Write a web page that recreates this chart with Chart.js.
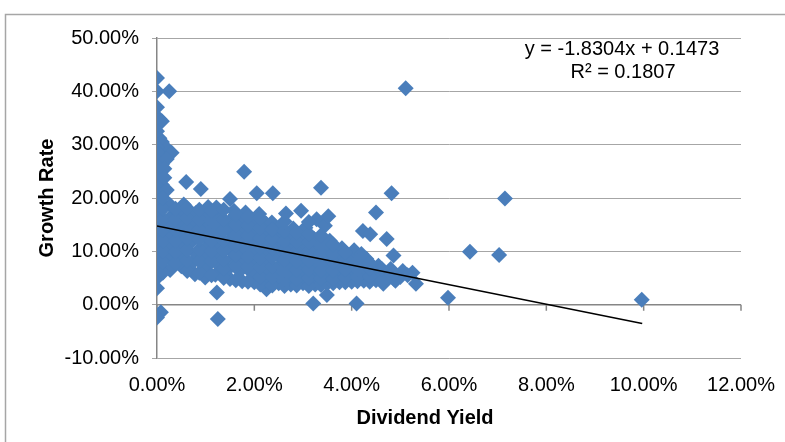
<!DOCTYPE html>
<html>
<head>
<meta charset="utf-8">
<script src="https://cdn.jsdelivr.net/npm/chart.js@4/dist/chart.umd.min.js"></script>
<style>
  body { margin: 0; background: #fff; }
  canvas { display: block; }
</style>
</head>
<body>
<canvas id="chart" width="785" height="442"></canvas>
<script>
(function() {
	"use strict";

	// dividend yield (%) and growth rate (%)
	var DIV_YIELD = [
		0, 0, 0.25, 0, 0.05, 0.1, 0, 0.05, 0.1, 0.2, 0, 0.05, 0, 0.1, 0, 0.05, 0, 0.1, 0, 0.05,
		0, 0.1, 0, 0.05, 0, 0.1, 0, 0.05, 0, 0.1, 0, 0.05, 0, 0.1, 0, 0.05, 0, 0, 0, 0.08, 0,
		0.3, 0.2, 0.15, 0.15, 0.2,
		0.27, 0.3, 0.22, 0.3, 0.25, 0.32, 0.28,
		0.5, 0.45, 0.55, 0.48, 0.52, 0.45, 0.55,
		0.78, 0.72, 0.8, 0.7, 0.77, 0.73, 0.8, 0.6,
		0.99, 1.02, 0.95, 1.05, 0.98, 1.03, 0.97, 0.9, 1.05,
		1.23, 1.25, 1.2, 1.28, 1.22, 1.3, 1.25, 1.2, 1.27, 1.22,
		1.5, 1.45, 1.55, 1.48, 1.52, 1.46, 1.54, 1.5, 1.58,
		1.75, 1.7, 1.8, 1.73, 1.78, 1.72, 1.77, 1.79, 1.82,
		2.0, 1.95, 2.05, 1.98, 2.03, 1.97, 2.02, 2.05, 2.1,
		2.25, 2.22, 2.28, 2.2, 2.27, 2.23, 2.3, 2.24, 2.36, 2.38,
		2.5, 2.45, 2.55, 2.48, 2.53, 2.47, 2.52, 2.65,
		2.75, 2.72, 2.78, 2.7, 2.77, 2.73, 2.8, 2.96,
		3.0, 2.97, 3.03, 2.98, 3.02, 2.96, 3.05, 3.21, 3.37,
		3.25, 3.22, 3.28, 3.2, 3.27, 3.23, 3.28, 3.45, 3.52,
		3.49, 3.5, 3.47, 3.53, 3.48, 3.52, 3.55,
		3.75, 3.72, 3.78, 3.74, 3.8,
		4.1, 4.0, 3.97, 4.03, 4.0, 4.05,
		4.25, 4.22, 4.28, 4.2, 4.23, 4.38, 4.3,
		4.5, 4.45, 4.55, 4.5, 4.6,
		4.65, 4.75, 4.8, 4.72, 4.86, 4.82, 4.9,
		5.05, 5.25, 5.32, 5.11, 5.98, 6.43, 7.03, 7.15, 9.96, 5.0,
		// in-between columns of the dense cloud
		0.12, 0.12, 0.12, 0.12, 0.12, 0.12, 0.12, 0.12,
		0.38, 0.38, 0.38, 0.38, 0.38, 0.38,
		0.62, 0.62, 0.62, 0.62, 0.62, 0.62, 0.62,
		0.87, 0.87, 0.87, 0.87, 0.87, 0.87, 0.87,
		1.12, 1.12, 1.12, 1.12, 1.12, 1.12, 1.12,
		1.37, 1.37, 1.37, 1.37, 1.37, 1.37, 1.37, 1.37,
		1.62, 1.62, 1.62, 1.62, 1.62, 1.62, 1.62,
		1.87, 1.87, 1.87, 1.87, 1.87, 1.87, 1.87,
		2.12, 2.12, 2.12, 2.12, 2.12, 2.12, 2.12, 2.12,
		2.37, 2.37, 2.37, 2.37, 2.37, 2.37, 2.37,
		2.62, 2.62, 2.62, 2.62, 2.62, 2.62, 2.62, 2.62,
		2.87, 2.87, 2.87, 2.87, 2.87, 2.87, 2.87,
		3.12, 3.12, 3.12, 3.12, 3.12, 3.12, 3.12, 3.12,
		3.37, 3.37, 3.37, 3.37, 3.37, 3.37, 3.37,
		3.62, 3.62, 3.62, 3.62, 3.62, 3.62,
		3.87, 3.87, 3.87, 3.87, 3.87,
		4.12, 4.12, 4.12, 4.12,
		4.37, 4.37, 4.37, 4.37,
		4.62, 4.62, 4.87, 4.87, 5.15
	];
	var GROWTH = [
		42.5, 40, 40, 37, 34.8, 34.4, 32.5, 31.2, 30.5, 29.3, 29.5, 28.2, 27, 26.3, 25.2, 24.2, 23.3, 22.5, 21.6, 20.7,
		19.8, 19, 18.2, 17.4, 16.5, 15.7, 14.8, 14, 13.2, 12.4, 11.5, 10.7, 9.8, 9, 8.2, 7.3, 6.5, 5, 3.1, -1.4, -2.4,
		28.5, 27.3, 25.5, 23.8, 21.5,
		6.5, 8.8, 10.8, 12.9, 15.1, 16.8, 18.6,
		7.2, 9.3, 11.2, 13.1, 15.2, 17.3, 18.8,
		5.7, 7.8, 9.6, 11.7, 13.6, 15.4, 17.2, 23,
		5.1, 7.2, 9.1, 11.0, 12.9, 14.8, 16.7, 21.7, 18.3,
		2.3, -2.7, 5.6, 7.3, 9.3, 11.1, 13, 14.9, 16.8, 18.2,
		4.8, 6.6, 8.5, 10.4, 12.3, 14.2, 16.1, 19.8, 17.6,
		4.4, 6.3, 8.2, 10.1, 12, 13.9, 15.8, 24.9, 17.3,
		4.2, 6, 7.9, 9.8, 11.7, 13.5, 15.4, 20.9, 17.0,
		2.9, 4.5, 6.2, 8.0, 9.8, 11.6, 13.4, 15.2, 15.4, 20.9,
		4.0, 5.8, 7.6, 9.4, 11.2, 13, 14.6, 17.1,
		3.8, 5.6, 7.4, 9.2, 11, 12.8, 14.3, 17.6,
		4.0, 5.8, 7.5, 9.2, 10.9, 12.6, 14.4, 0.2, 21.9,
		3.8, 5.5, 7.2, 8.9, 10.6, 12.3, 16, 14.8, 16.6,
		1.8, 4.0, 5.6, 7.2, 8.8, 10.3, 12,
		4.2, 5.8, 7.4, 9.0, 10.6,
		0.2, 4.3, 5.9, 7.4, 8.9, 10.2,
		4.5, 6.0, 7.5, 9.5, 13.8, 13.2, 8.6,
		4.6, 6.1, 7.3, 17.3, 5.3,
		3.9, 5.0, 6.7, 12.3, 9.2, 20.9, 4.5,
		6.3, 6.0, 3.9, 40.6, 1.3, 9.9, 9.3, 19.9, 0.9, 5.2,
		// in-between columns of the dense cloud
		6, 8, 10, 12, 14, 16, 18, 20,
		7.8, 9.9, 12, 14, 16, 18,
		6.3, 8.3, 10.3, 12.4, 14.3, 16.3, 18.1,
		6, 8.2, 10.3, 12.2, 14.1, 16, 17.8,
		5.5, 8.2, 10, 12, 13.9, 15.8, 17.6,
		5, 6.8, 8.4, 10.2, 12.1, 14, 15.9, 17.8,
		4.6, 7.3, 9.3, 11.2, 13, 15, 16.9,
		4.3, 7.1, 9, 11, 12.9, 14.8, 16.5,
		3.8, 5.2, 7.0, 8.8, 10.7, 12.5, 14.4, 16.2,
		3.6, 5.2, 7.1, 8.9, 10.6, 12.4, 14.1,
		3.5, 4.9, 6.6, 8.4, 10.2, 12, 13.8, 15.6,
		3.6, 4.8, 6.5, 8.2, 10, 11.8, 13.5,
		3.5, 5, 6.6, 8.3, 10, 11.7, 13.3, 15.5,
		3.7, 4.9, 6.4, 8.0, 9.6, 11.2, 13.0,
		4, 4.8, 6.4, 8.0, 9.6, 11.3,
		4.2, 5.1, 6.6, 8.2, 9.8,
		4.4, 5.2, 6.8, 8.1,
		4.3, 5.3, 6.8, 7.8,
		4.5, 6.7, 4.8, 5.8, 5.5
	];

	// linear trendline end points as drawn
	var TREND_X = [0, 9.97];
	var TREND_Y = [14.73, -3.52];
	var TREND_LABEL = ["y = -1.8304x + 0.1473", "R\u00b2 = 0.1807"];

	var X_TITLE = "Dividend Yield";
	var Y_TITLE = "Growth Rate";

	var FONT = "'Liberation Sans', Arial, sans-serif";

	function pct(v) {
		return v.toFixed(2) + "%";
	}

	var points = DIV_YIELD.map(function(x, i) {
		return { x: x, y: GROWTH[i] };
	});
	var trend = TREND_X.map(function(x, i) {
		return { x: x, y: TREND_Y[i] };
	});

	var excelBits = {
		id: "excelBits",
		beforeDraw: function(chart) {
			var ctx = chart.ctx;
			ctx.save();
			ctx.fillStyle = "#fff";
			ctx.fillRect(0, 0, chart.width, chart.height);
			ctx.strokeStyle = "#a6a6a6";
			ctx.lineWidth = 1.5;
			ctx.strokeRect(5.5, 14.5, 800, 460);
			ctx.restore();
		},
		beforeDatasetsDraw: function(chart) {
			var ctx = chart.ctx;
			var xs = chart.scales.x;
			var y0 = chart.scales.y.getPixelForValue(0);
			ctx.save();
			ctx.strokeStyle = "#868686";
			ctx.lineWidth = 1.5;
			ctx.beginPath();
			ctx.moveTo(chart.chartArea.left, y0);
			ctx.lineTo(chart.chartArea.right, y0);
			xs.ticks.forEach(function(t) {
				var px = xs.getPixelForValue(t.value);
				ctx.moveTo(px, y0);
				ctx.lineTo(px, y0 + 6);
			});
			ctx.stroke();
			ctx.restore();
		},
		afterDraw: function(chart) {
			var ctx = chart.ctx;
			ctx.save();
			ctx.fillStyle = "#000";
			ctx.textAlign = "center";
			ctx.textBaseline = "middle";
			ctx.font = "20px " + FONT;
			ctx.fillText(TREND_LABEL[0], 622, 49);
			ctx.fillText(TREND_LABEL[1], 623, 72);
			ctx.font = "bold 20px " + FONT;
			ctx.fillText(X_TITLE, 425, 418);
			ctx.restore();
		}
	};

	document.addEventListener("DOMContentLoaded", function() {
		var ctx = document.getElementById("chart").getContext("2d");

		new Chart(ctx, {
			type: "scatter",
			data: {
				datasets: [{
					label: "Growth Rate",
					data: points,
					pointStyle: "rectRot",
					pointRadius: 8,
					backgroundColor: "#4a7ebb",
					borderColor: "#4a7ebb",
					borderWidth: 0,
					order: 2
				}, {
					type: "line",
					label: "Linear",
					data: trend,
					borderColor: "#000",
					borderWidth: 1.5,
					pointRadius: 0,
					fill: false,
					order: 1
				}]
			},
			options: {
				responsive: false,
				animation: false,
				devicePixelRatio: 1,
				layout: { padding: { left: 0, right: 44, top: 38, bottom: 0 } },
				plugins: {
					legend: { display: false },
					tooltip: { enabled: false }
				},
				scales: {
					x: {
						type: "linear",
						position: "bottom",
						min: 0,
						max: 12,
						ticks: {
							stepSize: 2,
							callback: pct,
							color: "#000",
							padding: 7,
							maxRotation: 0,
							font: { family: FONT, size: 20 }
						},
						grid: { display: false },
						border: { display: false },
						afterFit: function(s) { s.height = 84; }
					},
					y: {
						min: -10,
						max: 50,
						ticks: {
							stepSize: 10,
							callback: pct,
							color: "#000",
							padding: 13,
							font: { family: FONT, size: 20 }
						},
						grid: { color: "#a6a6a6", lineWidth: 1, tickLength: 5 },
						border: { color: "#868686", width: 1.5 },
						title: {
							display: true,
							text: Y_TITLE,
							color: "#000",
							padding: { top: 35, bottom: 0 },
							font: { family: FONT, size: 20, weight: "bold" }
						},
						afterFit: function(s) { s.width = 157; }
					}
				}
			},
			plugins: [excelBits]
		});
	});
}) ();
</script>
</body>
</html>
